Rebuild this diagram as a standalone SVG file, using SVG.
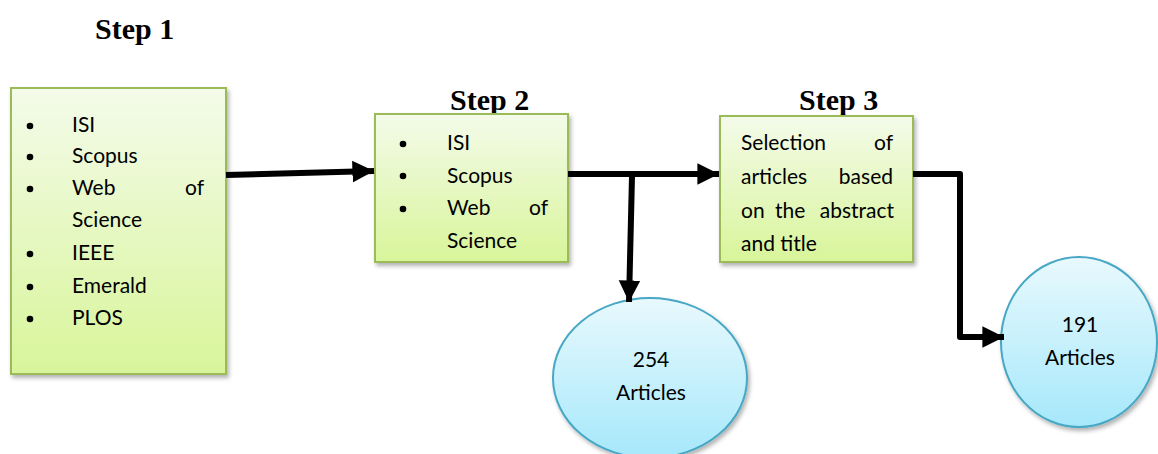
<svg xmlns="http://www.w3.org/2000/svg" width="1158" height="454" viewBox="0 0 1158 454">
<defs>
<linearGradient id="g" x1="0" y1="0" x2="0" y2="1"><stop offset="0" stop-color="#f4fbea"/><stop offset="1" stop-color="#d8f59a"/></linearGradient>
<linearGradient id="b" x1="0" y1="0" x2="0" y2="1"><stop offset="0" stop-color="#e8f9fd"/><stop offset="1" stop-color="#a6e8fb"/></linearGradient>
<filter id="sh" x="-10%" y="-10%" width="125%" height="125%"><feDropShadow dx="2" dy="3" stdDeviation="2" flood-color="#000" flood-opacity="0.3"/></filter>
<marker id="ah" viewBox="0 0 10 10" refX="10" refY="5" markerWidth="3.6" markerHeight="3.8" orient="auto" markerUnits="strokeWidth"><path d="M0,0 L10,5 L0,10 z" fill="#000"/></marker>
<style>
.box{fill:url(#g);stroke:#9bbb59;stroke-width:2;filter:url(#sh)}
.ell{fill:url(#b);stroke:#46a7c4;stroke-width:2;filter:url(#sh)}
.t{font-family:Lato,"Open Sans",sans-serif;font-size:21px;fill:#000}
.s{font-family:"Liberation Serif",serif;font-weight:bold;font-size:30px;fill:#000}
.c{stroke:#000;stroke-width:6;fill:none;stroke-linejoin:round}
</style>
</defs>
<text class="s" x="95" y="39">Step 1</text>
<text class="s" x="450" y="110">Step 2</text>
<text class="s" x="799" y="110">Step 3</text>
<g id="box1">
<rect class="box" x="11" y="88" width="215" height="286"/>
<g fill="#000"><circle cx="30" cy="126" r="3.3"/><circle cx="30" cy="157" r="3.3"/><circle cx="30" cy="189" r="3.3"/><circle cx="30" cy="254" r="3.3"/><circle cx="30" cy="287" r="3.3"/><circle cx="30" cy="319" r="3.3"/></g>
<text class="t" x="72" y="132">ISI</text>
<text class="t" x="72" y="163">Scopus</text>
<text class="t" x="72" y="195">Web</text><text class="t" x="204" y="195" text-anchor="end">of</text>
<text class="t" x="72" y="227">Science</text>
<text class="t" x="72" y="260">IEEE</text>
<text class="t" x="72" y="293">Emerald</text>
<text class="t" x="72" y="325">PLOS</text>
</g>
<g id="box2">
<rect class="box" x="375" y="114" width="193" height="148"/>
<g fill="#000"><circle cx="403" cy="144" r="3.3"/><circle cx="403" cy="176" r="3.3"/><circle cx="403" cy="209" r="3.3"/></g>
<text class="t" x="447" y="150">ISI</text>
<text class="t" x="447" y="183">Scopus</text>
<text class="t" x="447" y="215">Web</text><text class="t" x="548" y="215" text-anchor="end">of</text>
<text class="t" x="447" y="248">Science</text>
</g>
<g id="box3">
<rect class="box" x="720" y="116" width="193" height="146"/>
<text class="t" x="741" y="150">Selection</text><text class="t" x="893" y="150" text-anchor="end">of</text>
<text class="t" x="741" y="184">articles</text><text class="t" x="893" y="184" text-anchor="end">based</text>
<text class="t" x="741" y="218">on</text><text class="t" x="775" y="218">the</text><text class="t" x="894" y="218" text-anchor="end">abstract</text>
<text class="t" x="741" y="251">and title</text>
</g>
<g id="res254">
<ellipse class="ell" cx="650" cy="378" rx="97" ry="80"/>
<text class="t" x="651" y="367" text-anchor="middle">254</text>
<text class="t" x="651" y="400" text-anchor="middle">Articles</text>
</g>
<g id="res191">
<ellipse class="ell" cx="1079" cy="342" rx="78" ry="85"/>
<text class="t" x="1080" y="332" text-anchor="middle">191</text>
<text class="t" x="1080" y="365" text-anchor="middle">Articles</text>
</g>
<g id="connectors">
<path class="c" d="M226,175 L374,171" marker-end="url(#ah)"/>
<path class="c" d="M568,174 L719,174" marker-end="url(#ah)"/>
<path class="c" d="M632,176 L629,302" marker-end="url(#ah)"/>
<path class="c" d="M913,174 L960,174 L960,337 L1004,337" marker-end="url(#ah)"/>
</g>
</svg>
